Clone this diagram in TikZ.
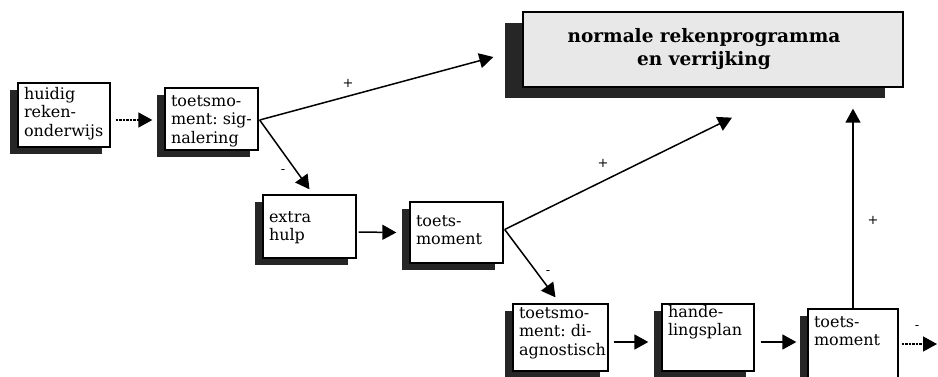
\documentclass[tikz,border=0pt]{standalone}
\usepackage{fontspec}
\setmainfont{DejaVu Serif}
\usetikzlibrary{arrows.meta,shadows}
\newcommand\bt[4]{\parbox[c][#2pt][t]{#1pt}{\raggedright\vspace*{#3pt}\rule{0pt}{12pt}#4}}
\begin{document}
\begin{tikzpicture}[x=1pt,y=-1pt,
  sbox/.style={draw, line width=1.3pt, fill=white, inner xsep=6pt, inner ysep=0pt,
    font=\fontsize{16}{18.5}\selectfont,
    drop shadow={shadow xshift=-8pt, shadow yshift=-7pt, fill=black!85, opacity=1}},
  bigbox/.style={draw, line width=1.3pt, fill=black!9, inner sep=0pt,
    minimum width=380pt, minimum height=75pt, align=center,
    font=\fontsize{18.5}{23}\selectfont\bfseries,
    drop shadow={shadow xshift=-18pt, shadow yshift=-11pt, fill=black!85, opacity=1}},
  conn/.style={line width=1.5pt, -{Triangle[length=14pt,width=15pt]}},
  dconn/.style={conn, dash pattern=on 2.5pt off 1pt},
  sign/.style={font=\fontsize{13}{13}\selectfont, inner sep=0pt}]
\useasboundingbox (0,0) rectangle (938,376);

\node[bigbox] (big) at (713,49.5) {normale rekenprogramma\hspace*{18pt}\\en verrijking\hspace*{18pt}};

\node[sbox] (b1) at (64,115)      {\bt{80}{64}{4}{huidig\\reken-\\onderwijs}};
\node[sbox] (b2) at (211.5,119)   {\bt{81}{62}{6}{toetsmo-\\\mbox{ment:~sig-}\\nalering}};
\node[sbox] (b3) at (309.5,226.5) {\bt{81}{63}{15}{extra\\hulp}};
\node[sbox] (b4) at (456.5,232.5) {\bt{81}{61}{12}{toets-\\moment}};
\node[sbox] (b5) at (560.5,337.5) {\bt{83}{67}{2}{toetsmo-\\\mbox{ment:~di-}\\agnostisch}};
\node[sbox] (b6) at (708,337.5)   {\bt{80}{67}{1}{hande-\\lingsplan}};
\node[sbox] (b7) at (853,343.5)   {\bt{78}{69}{6}{toets-\\moment}};

\coordinate (out) at (937,344);

\draw[dconn] ([shift={(5,5)}]b1.east) -- ([shift={(-12,1)}]b2.west);
\draw[conn] ([shift={(1,1)}]b2.east) -- ([shift={(-29,7.5)}]big.west);
\draw[conn] ([shift={(1,1)}]b2.east) -- ([shift={(0,-5)}]b3.north);
\draw[conn] ([shift={(2,5.5)}]b3.east) -- ([shift={(-13,0)}]b4.west);
\draw[conn] ([shift={(1,-3)}]b4.east) -- ([shift={(19,30)}]big.south);
\draw[conn] ([shift={(1,-3)}]b4.east) -- ([shift={(-5,-6)}]b5.north);
\draw[conn] ([shift={(5,4.5)}]b5.east) -- ([shift={(-13,4.5)}]b6.west);
\draw[conn] ([shift={(6,4.5)}]b6.east) -- ([shift={(-11,-1.5)}]b7.west);
\draw[conn, shorten >=21pt] (b7.north) -- (b7.north |- big.south);
\draw[dconn] ([shift={(3,0.5)}]b7.east) -- (out);

\node[sign] (p1) at (348,83)  {+};
\node[sign] (m1) at (283,172) {-};
\node[sign] (p2) at (603,163) {+};
\node[sign] (m2) at (548,273) {-};
\node[sign] (p3) at (873,220) {+};
\node[sign] (m3) at (917,328) {-};
\end{tikzpicture}
\end{document}
